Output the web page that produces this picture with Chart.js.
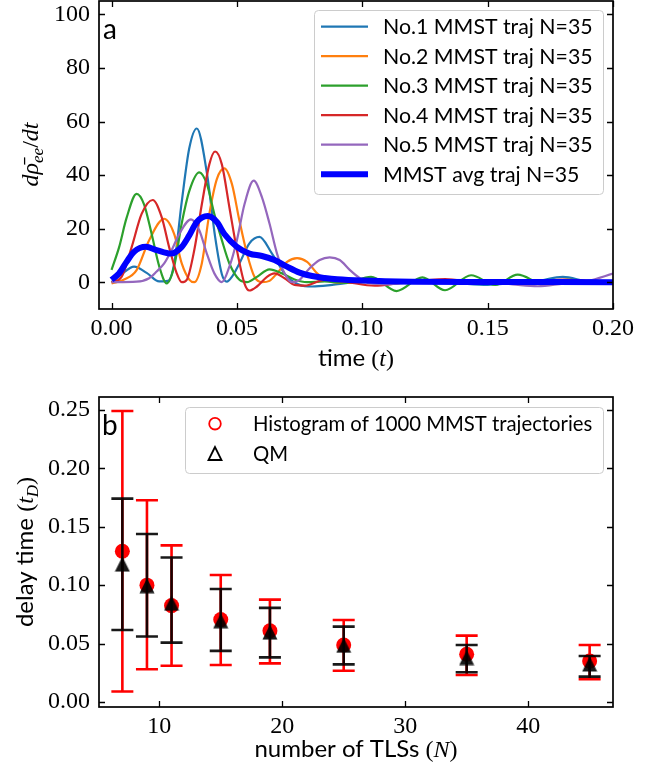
<!DOCTYPE html>
<html>
<head>
<meta charset="utf-8">
<script src="https://cdn.jsdelivr.net/npm/chart.js@4.4.0/dist/chart.umd.min.js"></script>
<style>
  html, body { margin: 0; padding: 0; background: #fff; }
  #wrap { position: relative; width: 668px; height: 777px; overflow: hidden; }
  canvas { position: absolute; left: 0; }
  #chartA { top: 0; width: 668px; height: 385px; }
  #chartB { top: 385px; width: 668px; height: 392px; }
</style>
</head>
<body>
<div id="wrap">
  <canvas id="chartA" width="668" height="385"></canvas>
  <canvas id="chartB" width="668" height="392"></canvas>
</div>
<script>
// ---------- panel a : dρ/dt of single trajectories (time, value) ----------
const traj1T = [0, 0.004, 0.009, 0.014, 0.019, 0.0225, 0.025, 0.028, 0.031, 0.034, 0.038, 0.0413, 0.044, 0.046, 0.048, 0.051, 0.055, 0.059, 0.064, 0.070, 0.075, 0.080, 0.088, 0.095, 0.100, 0.110, 0.120, 0.130, 0.140, 0.150, 0.160, 0.170, 0.180, 0.190, 0.200];
const traj1V = [0, 3, 5.8, 3.5, 0.3, 0.5, 7, 30, 50, 57.4, 41, 17, 3, 0.2, 2, 7, 14.5, 16.9, 10.7, 2, -1, -1.6, -1, -0.2, 0, 0.3, -0.2, 0.3, -0.5, -1, -0.3, 0.5, 2, 0.3, 0];

const traj2T = [0, 0.005, 0.010, 0.015, 0.021, 0.025, 0.028, 0.031, 0.033, 0.036, 0.039, 0.042, 0.045, 0.048, 0.051, 0.054, 0.057, 0.060, 0.063, 0.066, 0.070, 0.074, 0.078, 0.082, 0.087, 0.095, 0.100, 0.120, 0.140, 0.160, 0.180, 0.200];
const traj2V = [-0.5, 1, 4.5, 15.7, 23.7, 18, 7, 1, 0, 7, 25.5, 38.5, 42.5, 36.7, 23, 10.7, 2, 0, 0.5, 3.3, 7.6, 9, 7.6, 3.3, 0.3, -0.3, 0, 0.5, -0.3, 0.3, -0.3, 0];

const traj3T = [0, 0.003, 0.006, 0.010, 0.013, 0.016, 0.019, 0.022, 0.025, 0.028, 0.031, 0.035, 0.038, 0.041, 0.044, 0.047, 0.051, 0.054, 0.058, 0.063, 0.068, 0.073, 0.078, 0.085, 0.093, 0.1035, 0.1137, 0.124, 0.133, 0.1434, 0.153, 0.162, 0.172, 0.182, 0.191, 0.200];
const traj3V = [4.6, 13, 24, 33, 29, 18, 6, -0.4, 6, 22, 34, 41, 36.7, 25.5, 15.7, 7, 0.9, 0, 2, 4.8, 3.3, 1, 0, 0.3, -0.3, 2, -3.3, 1.8, -3, 2.6, -1, 2.8, -0.5, 1, -0.5, 0.5];

const traj4T = [0, 0.004, 0.008, 0.012, 0.0164, 0.020, 0.023, 0.026, 0.028, 0.030, 0.033, 0.036, 0.039, 0.0413, 0.044, 0.047, 0.050, 0.053, 0.055, 0.058, 0.062, 0.065, 0.069, 0.073, 0.077, 0.085, 0.093, 0.105, 0.115, 0.133, 0.145, 0.160, 0.180, 0.190, 0.200];
const traj4V = [0, 2, 13, 25.5, 30.7, 24.3, 13, 3.3, 0, 0.9, 12, 29, 44, 48.8, 44, 28, 12, -0.4, -3.1, -1.6, 2, 3.3, 1.5, -1, -1.3, 0.9, 0.2, -1.3, -0.3, 1.2, 0, -0.3, 1, 0.5, 0];

const traj5T = [0, 0.010, 0.015, 0.018, 0.021, 0.024, 0.027, 0.0317, 0.035, 0.038, 0.041, 0.044, 0.047, 0.050, 0.053, 0.0567, 0.060, 0.063, 0.066, 0.069, 0.072, 0.075, 0.079, 0.083, 0.087, 0.091, 0.095, 0.099, 0.103, 0.110, 0.120, 0.130, 0.150, 0.160, 0.170, 0.180, 0.190, 0.200];
const traj5V = [0, 0.2, 1.5, 4, 7, 12, 18, 23.5, 19.4, 10.7, 3.3, 0, 5.8, 15.7, 29, 37.9, 31.7, 21.9, 10.7, 3.3, 0, 0.9, 5.2, 8.3, 9.3, 8.3, 4.6, 1.5, -0.4, -0.8, 0, 0.3, 0, -0.8, -1.5, -0.5, 0.5, 3.2];

const avgT = [0, 0.003, 0.006, 0.009, 0.0137, 0.018, 0.0237, 0.028, 0.031, 0.034, 0.0384, 0.042, 0.045, 0.050, 0.055, 0.060, 0.065, 0.070, 0.075, 0.080, 0.085, 0.090, 0.100, 0.120, 0.150, 0.200];
const avgV = [0.9, 3.3, 7.6, 11.4, 13.2, 12, 10.7, 13.2, 17.5, 22.5, 24.7, 22.5, 18, 13.2, 10.7, 9.8, 8.3, 5.8, 3.6, 2.3, 1.6, 1.1, 0.6, 0.2, 0.1, 0];

const trajLabels = ['No.1 MMST traj N=35', 'No.2 MMST traj N=35', 'No.3 MMST traj N=35', 'No.4 MMST traj N=35', 'No.5 MMST traj N=35'];
const avgLabel = 'MMST avg traj N=35';
const timeTicks = [0, 0.05, 0.10, 0.15, 0.20];
const rateTicks = [0, 20, 40, 60, 80, 100];

// ---------- panel b : delay time vs number of TLSs ----------
const tlsCounts = [7, 9, 11, 15, 19, 25, 35, 45];
const mmstMean = [0.129, 0.100, 0.0825, 0.0705, 0.061, 0.0488, 0.0408, 0.0350];
const mmstLow  = [0.009, 0.028, 0.031, 0.0317, 0.033, 0.0267, 0.0231, 0.0194];
const mmstHigh = [0.249, 0.1727, 0.134, 0.1087, 0.0876, 0.0702, 0.0568, 0.0488];
const qmMean = [0.118, 0.0995, 0.0845, 0.0695, 0.0598, 0.0485, 0.038, 0.0325];
const qmLow  = [0.0616, 0.056, 0.0508, 0.0437, 0.0382, 0.0322, 0.0254, 0.0217];
const qmHigh = [0.174, 0.1438, 0.1236, 0.0967, 0.0805, 0.0645, 0.0488, 0.0394];
const tlsTicks = [10, 20, 30, 40];
const delayTicks = [0, 0.05, 0.10, 0.15, 0.20, 0.25];

const SANS = 'Lato, "Open Sans", sans-serif';
const SERIF = '"Liberation Serif", "DejaVu Serif", serif';
const TRAJ_COLORS = ['#1f77b4', '#ff7f0e', '#2ca02c', '#d62728', '#9467bd'];
const QM_COLOR = 'rgba(0,0,0,0.9)';

const pts = (xs, ys) => xs.map((x, i) => ({ x: x, y: ys[i] }));

// text made of runs in different fonts (mathtext look-alike)
function drawRuns(ctx, runs, cx, cy, vertical) {
    ctx.save();
    ctx.translate(cx, cy);
    if (vertical) ctx.rotate(-Math.PI / 2);
    ctx.fillStyle = '#000';
    ctx.textBaseline = 'alphabetic';
    let total = 0;
    runs.forEach(r => { ctx.font = r.font; r.w = ctx.measureText(r.text).width; total += r.w; });
    let x = -total / 2;
    runs.forEach(r => { ctx.font = r.font; ctx.fillText(r.text, x, r.dy || 0); x += r.w; });
    ctx.restore();
}

// pick a font size so that the sample text gets the width seen in the figure
function fitSize(ctx, text, family, width) {
    ctx.save();
    ctx.font = '20px ' + family;
    const w = ctx.measureText(text).width;
    ctx.restore();
    return 20 * width / w;
}

function legendFrame(ctx, l, t, r, b) {
    ctx.save();
    ctx.beginPath();
    ctx.roundRect(l + 0.5, t + 0.5, r - l, b - t, 4);
    ctx.fillStyle = 'rgba(255,255,255,0.8)';
    ctx.fill();
    ctx.strokeStyle = '#cccccc';
    ctx.lineWidth = 1;
    ctx.stroke();
    ctx.restore();
}

// box + inward ticks on all four sides (matplotlib style)
const framePlugin = {
    id: 'frame',
    afterDatasetsDraw(chart) {
        const { ctx, chartArea: a, scales: { x, y } } = chart;
        ctx.save();
        ctx.strokeStyle = '#000';
        ctx.lineWidth = 1.3;
        ctx.beginPath();
        x.ticks.forEach(t => {
            const p = Math.round(x.getPixelForValue(t.value)) + 0.5;
            ctx.moveTo(p, a.bottom); ctx.lineTo(p, a.bottom - 6);
            ctx.moveTo(p, a.top); ctx.lineTo(p, a.top + 6);
        });
        y.ticks.forEach(t => {
            const p = Math.round(y.getPixelForValue(t.value)) + 0.5;
            ctx.moveTo(a.left, p); ctx.lineTo(a.left + 6, p);
            ctx.moveTo(a.right, p); ctx.lineTo(a.right - 6, p);
        });
        ctx.stroke();
        ctx.lineWidth = 1.7;
        ctx.strokeRect(a.left, a.top, a.right - a.left, a.bottom - a.top);
        ctx.restore();
    }
};

// error bars are drawn just before the markers of their own dataset
const errorBarPlugin = {
    id: 'errorBars',
    beforeDatasetDraw(chart, args) {
        const ds = chart.data.datasets[args.index];
        if (!ds.errLow) return;
        const { ctx, scales: { x, y } } = chart;
        ctx.save();
        ctx.strokeStyle = ds.errColor;
        ctx.lineWidth = 2.6;
        ctx.beginPath();
        tlsCounts.forEach((n, i) => {
            const px = x.getPixelForValue(n);
            const lo = y.getPixelForValue(ds.errLow[i]);
            const hi = y.getPixelForValue(ds.errHigh[i]);
            ctx.moveTo(px, lo); ctx.lineTo(px, hi);
            ctx.moveTo(px - 11, lo); ctx.lineTo(px + 11, lo);
            ctx.moveTo(px - 11, hi); ctx.lineTo(px + 11, hi);
        });
        ctx.stroke();
        ctx.restore();
    }
};

// decorations of panel a: legend, titles, panel letter
const decoA = {
    id: 'decoA',
    afterDraw(chart) {
        const ctx = chart.ctx;
        legendFrame(ctx, 314, 10, 603, 194);
        const rows = trajLabels.concat([avgLabel]);
        const colors = TRAJ_COLORS.concat(['#0000ff']);
        const fs = fitSize(ctx, trajLabels[0], SANS, 210);
        rows.forEach((txt, i) => {
            const yy = 26.7 + i * 29.5;
            ctx.save();
            ctx.strokeStyle = colors[i];
            ctx.lineWidth = i === 5 ? 6 : 2.2;
            ctx.beginPath(); ctx.moveTo(321, yy); ctx.lineTo(368, yy); ctx.stroke();
            ctx.fillStyle = '#000';
            ctx.font = fs.toFixed(1) + 'px ' + SANS;
            ctx.textBaseline = 'alphabetic';
            ctx.fillText(txt, 383, yy + 7.5);
            ctx.restore();
        });
        ctx.save();
        ctx.font = '28px ' + SANS;
        ctx.fillStyle = '#000';
        ctx.fillText('a', 103, 39);
        ctx.restore();
        const it = 'italic 24px ' + SERIF, rm = '24px ' + SERIF, sub = 'italic 17px ' + SERIF;
        drawRuns(ctx, [
            { text: 'time ', font: '24px ' + SANS },
            { text: '(', font: rm }, { text: 't', font: it }, { text: ')', font: rm }
        ], 356, 366, false);
        drawRuns(ctx, [
            { text: 'd', font: it }, { text: 'ρ̄', font: it },
            { text: 'ee', font: sub, dy: 5 },
            { text: '/', font: rm }, { text: 'dt', font: it }
        ], 38, 154.5, true);
    }
};

const decoB = {
    id: 'decoB',
    afterDraw(chart) {
        const ctx = chart.ctx;
        legendFrame(ctx, 185, 22, 603, 88);
        ctx.save();
        ctx.lineWidth = 1.8;
        ctx.strokeStyle = '#ff0000';
        ctx.beginPath(); ctx.arc(215, 38.7, 5.8, 0, Math.PI * 2); ctx.stroke();
        ctx.strokeStyle = '#000';
        ctx.beginPath();
        ctx.moveTo(215, 62); ctx.lineTo(208.5, 75); ctx.lineTo(221.5, 75); ctx.closePath();
        ctx.stroke();
        ctx.fillStyle = '#000';
        const histText = 'Histogram of 1000 MMST trajectories';
        ctx.font = fitSize(ctx, histText, SANS, 339).toFixed(1) + 'px ' + SANS;
        ctx.fillText(histText, 253, 46);
        ctx.fillText('QM', 253, 76);
        ctx.font = '28px ' + SANS;
        ctx.fillText('b', 102, 50);
        ctx.restore();
        const it = 'italic 24px ' + SERIF, rm = '24px ' + SERIF, sub = 'italic 17px ' + SERIF;
        drawRuns(ctx, [
            { text: 'number of TLSs ', font: '24px ' + SANS },
            { text: '(', font: rm }, { text: 'N', font: it }, { text: ')', font: rm }
        ], 356, 372, false);
        drawRuns(ctx, [
            { text: 'delay time ', font: '24px ' + SANS },
            { text: '(', font: rm }, { text: 't', font: it },
            { text: 'D', font: sub, dy: 5 }, { text: ')', font: rm }
        ], 33, 167, true);
    }
};

function axis(min, max, tickValues, fmt, fitSizePx, horizontal) {
    return {
        type: 'linear',
        min: min,
        max: max,
        grid: { display: false, drawTicks: false },
        border: { display: false },
        ticks: {
            color: '#000',
            font: { family: SERIF, size: 24 },
            padding: horizontal ? 5 : 9,
            autoSkip: false,
            maxRotation: 0,
            callback: fmt
        },
        afterBuildTicks: s => { s.ticks = tickValues.map(v => ({ value: v })); },
        afterFit: s => {
            if (horizontal) { s.height = fitSizePx; s.paddingLeft = 0; s.paddingRight = 0; }
            else { s.width = fitSizePx; s.paddingTop = 0; s.paddingBottom = 0; }
        }
    };
}

// triangle marker like matplotlib '^' (centred on its bounding box)
function triangleMarker(size, color) {
    const c = document.createElement('canvas');
    c.width = size; c.height = size;
    const g = c.getContext('2d');
    g.fillStyle = color;
    g.beginPath();
    g.moveTo(size / 2, 0.5); g.lineTo(size - 0.5, size - 0.5); g.lineTo(0.5, size - 0.5);
    g.closePath(); g.fill();
    return c;
}

const trajSets = [[traj1T, traj1V], [traj2T, traj2V], [traj3T, traj3V], [traj4T, traj4V], [traj5T, traj5V]];
const datasetsA = trajSets.map((s, i) => ({
    label: trajLabels[i],
    data: pts(s[0], s[1]),
    borderColor: TRAJ_COLORS[i],
    borderWidth: 2.2,
    pointRadius: 0,
    cubicInterpolationMode: 'monotone',
    order: 6 - i
}));
datasetsA.push({
    label: avgLabel,
    data: pts(avgT, avgV),
    borderColor: '#0000ff',
    borderWidth: 6,
    pointRadius: 0,
    cubicInterpolationMode: 'monotone',
    order: 0
});

new Chart(document.getElementById('chartA'), {
    type: 'line',
    data: { datasets: datasetsA },
    options: {
        responsive: false,
        animation: false,
        events: [],
        layout: { padding: { left: 0, top: 1, right: 55, bottom: 0 } },
        plugins: { legend: { display: false }, tooltip: { enabled: false } },
        scales: {
            x: axis(-0.005, 0.2, timeTicks, v => v.toFixed(2), 76, true),
            y: axis(-10, 105, rateTicks, v => String(v), 99, false)
        }
    },
    plugins: [framePlugin, decoA]
});

new Chart(document.getElementById('chartB'), {
    type: 'scatter',
    data: {
        datasets: [
            {
                label: 'Histogram of 1000 MMST trajectories',
                data: pts(tlsCounts, mmstMean),
                pointRadius: 7.5,
                pointBorderWidth: 0,
                pointBackgroundColor: '#ff0000',
                errLow: mmstLow, errHigh: mmstHigh, errColor: '#ff0000',
                order: 1
            },
            {
                label: 'QM',
                data: pts(tlsCounts, qmMean),
                pointStyle: triangleMarker(16, QM_COLOR),
                pointRadius: 8,
                errLow: qmLow, errHigh: qmHigh, errColor: QM_COLOR,
                order: 0
            }
        ]
    },
    options: {
        responsive: false,
        animation: false,
        events: [],
        layout: { padding: { left: 0, top: 12, right: 55, bottom: 0 } },
        plugins: { legend: { display: false }, tooltip: { enabled: false } },
        scales: {
            x: axis(5.1, 46.9, tlsTicks, v => String(v), 70, true),
            y: axis(-0.0043, 0.261, delayTicks, v => v.toFixed(2), 99, false)
        }
    },
    plugins: [errorBarPlugin, framePlugin, decoB]
});
</script>
</body>
</html>
